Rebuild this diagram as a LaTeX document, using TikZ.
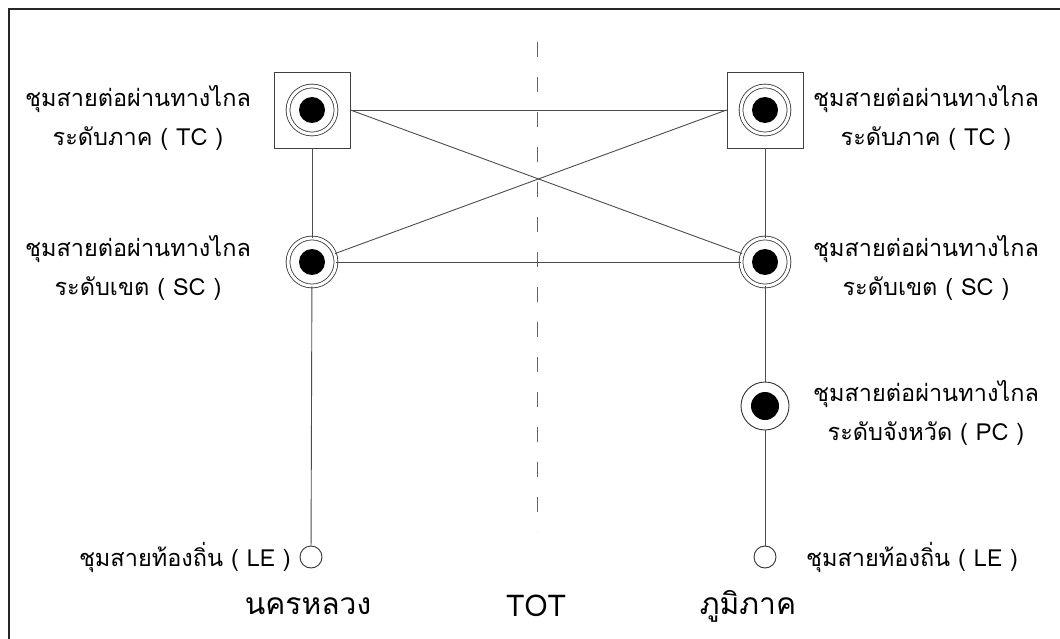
\documentclass[tikz,border=0pt]{standalone}
\usepackage{fontspec}
\setmainfont[Script=Thai]{Loma}
\begin{document}
\begin{tikzpicture}[x=1pt,y=-1pt,
  lnk/.style={draw=black!70,line width=0.9pt},
  sqbox/.style={rectangle,draw=black!75,line width=0.9pt,minimum size=76pt,inner sep=0pt},
  hub/.style={circle,draw=black!80,line width=0.8pt,double,double distance=3pt,minimum size=48pt,inner sep=0pt,
    path picture={\fill[black] (path picture bounding box.center) circle (13pt);}},
  pcnode/.style={circle,draw=black!80,line width=0.9pt,minimum size=48pt,inner sep=0pt,
    path picture={\fill[black] (path picture bounding box.center) circle (14pt);}},
  lenode/.style={circle,draw=black!80,line width=0.9pt,minimum size=22pt,inner sep=0pt},
  lbl/.style={align=center,font=\fontsize{23.5}{39}\selectfont,inner sep=0pt},
  blbl/.style={font=\fontsize{30}{34}\selectfont,inner sep=0pt}]
\useasboundingbox (0,0) rectangle (1060,639);
% frame
\draw[line width=1.4pt,black!85] (9,639) -- (9,9) -- (1060,9);
% dashed divider
\coordinate (dtop) at (537,42);
\coordinate (dbot) at (537,532);
\draw[black!60,line width=0.8pt,dash pattern=on 15pt off 20pt] (dtop) -- (dbot);
% nodes
\node[sqbox] (tcL) at (312,110) {};
\node[hub] (tcLc) at (312,110) {};
\node[sqbox] (tcR) at (765,110) {};
\node[hub] (tcRc) at (765,110) {};
\node[hub] (scL) at (312,262) {};
\node[hub] (scR) at (765,262) {};
\node[pcnode] (pcR) at (765,406) {};
\node[lenode] (leL) at (311,557) {};
\node[lenode] (leR) at (765,557) {};
% connectors
\draw[lnk] (tcL.east) -- (tcR.west);
\draw[lnk] (tcL.east) -- (scR);
\draw[lnk] (scL) -- (tcR.west);
\draw[lnk] (scL) -- (scR);
\draw[lnk] (tcL.south) -- (scL);
\draw[lnk] (scL) -- (leL);
\draw[lnk] (tcR.south) -- (scR);
\draw[lnk] (scR) -- (pcR);
\draw[lnk] (pcR) -- (leR);
% labels
\node[lbl] (ltc) at (138,118) {ชุมสายต่อผ่านทางไกล\\ระดับภาค ( TC )};
\node[lbl] (lsc) at (138,268) {ชุมสายต่อผ่านทางไกล\\ระดับเขต ( SC )};
\node[lbl] (rtc) at (926,118) {ชุมสายต่อผ่านทางไกล\\ระดับภาค ( TC )};
\node[lbl] (rsc) at (926,268) {ชุมสายต่อผ่านทางไกล\\ระดับเขต ( SC )};
\node[lbl] (rpc) at (926,413) {ชุมสายต่อผ่านทางไกล\\ระดับจังหวัด ( PC )};
\node[lbl,anchor=east] (lle) at (291,557) {ชุมสายท้องถิ่น ( LE )};
\node[lbl,anchor=west] (rle) at (806,557) {ชุมสายท้องถิ่น ( LE )};
\node[blbl] (bl) at (308,606) {นครหลวง};
\node[blbl] (bm) at (536,606) {TOT};
\node[blbl] (br) at (748,606) {ภูมิภาค};
\end{tikzpicture}
\end{document}
